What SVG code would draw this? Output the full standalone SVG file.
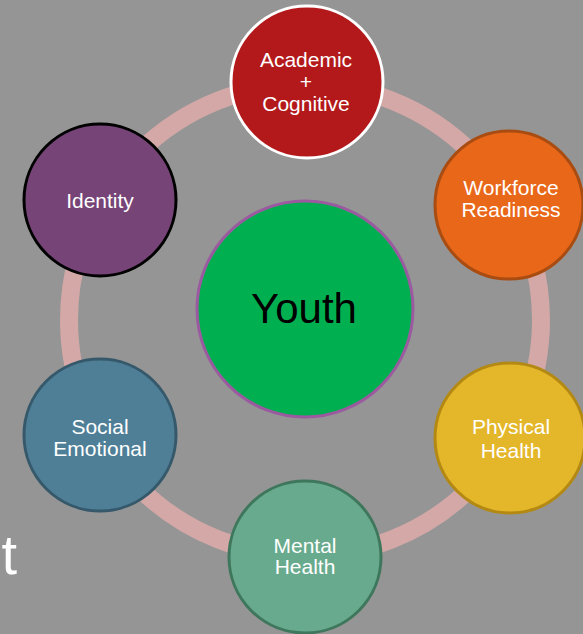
<svg xmlns="http://www.w3.org/2000/svg" width="583" height="634" viewBox="0 0 583 634">
<style>
.lbl{font-family:"Liberation Sans",Arial,sans-serif;font-size:21px;fill:#ffffff;text-anchor:middle}
.node{stroke-width:3}
</style>
<rect x="0" y="0" width="583" height="634" fill="#959595"/>
<g id="connectors">
<circle cx="305" cy="320" r="236" fill="none" stroke="#d3a8a7" stroke-width="18"/>
</g>
<text x="17" y="574" font-family="Liberation Sans, Arial, sans-serif" font-size="56" fill="#ffffff" text-anchor="end">t</text>
<g id="youth">
<circle cx="305" cy="309" r="108" fill="#00b050" stroke="#9b5aa0" stroke-width="3"/>
<text x="304" y="323" font-family="Liberation Sans, Arial, sans-serif" font-size="42" fill="#000000" text-anchor="middle">Youth</text>
</g>
<g id="academic">
<circle class="node" cx="307" cy="82" r="76" fill="#b3191b" stroke="#ffffff"/>
<text class="lbl" x="306" y="67">Academic</text>
<text class="lbl" x="306" y="89">+</text>
<text class="lbl" x="306" y="111">Cognitive</text>
</g>
<g id="workforce">
<circle class="node" cx="509" cy="205" r="74" fill="#e96719" stroke="#a94c12"/>
<text class="lbl" x="511" y="195">Workforce</text>
<text class="lbl" x="511" y="217">Readiness</text>
</g>
<g id="physical">
<circle class="node" cx="510" cy="438" r="75" fill="#e4b629" stroke="#b38914"/>
<text class="lbl" x="511" y="434">Physical</text>
<text class="lbl" x="511" y="458">Health</text>
</g>
<g id="mental">
<circle class="node" cx="305" cy="557" r="76" fill="#68aa8d" stroke="#3e775c"/>
<text class="lbl" x="305" y="553">Mental</text>
<text class="lbl" x="305" y="574">Health</text>
</g>
<g id="social">
<circle class="node" cx="100" cy="435" r="76" fill="#4f7f97" stroke="#35596b"/>
<text class="lbl" x="100" y="434">Social</text>
<text class="lbl" x="100" y="456">Emotional</text>
</g>
<g id="identity">
<circle class="node" cx="100" cy="200" r="76" fill="#764476" stroke="#000000"/>
<text class="lbl" x="100" y="208">Identity</text>
</g>
</svg>
